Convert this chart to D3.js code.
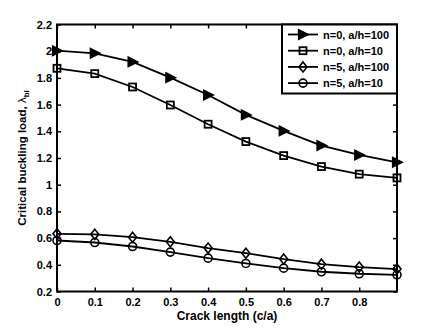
<!DOCTYPE html>
<html><head><meta charset="utf-8">
<script src="https://cdn.jsdelivr.net/npm/d3@7"></script>
<style>body{margin:0;background:#fff}svg{display:block}text{font-family:"Liberation Sans",Arial,sans-serif;font-weight:bold}</style>
</head><body><svg id="c" width="437" height="328"></svg>
<script>
const crack = [0,0.1,0.2,0.3,0.4,0.5,0.6,0.7,0.8,0.9];
const s_n0_a100 = [2.004,1.984,1.92,1.802,1.672,1.523,1.403,1.293,1.223,1.168];
const s_n0_a10  = [1.872,1.832,1.732,1.597,1.453,1.323,1.218,1.136,1.079,1.051];
const s_n5_a100 = [0.632,0.628,0.607,0.572,0.525,0.487,0.443,0.405,0.383,0.368];
const s_n5_a10  = [0.582,0.567,0.537,0.495,0.45,0.41,0.375,0.348,0.333,0.325];
const seriesNames = ["n=0, a/h=100","n=0, a/h=10","n=5, a/h=100","n=5, a/h=10"];
const seriesMarkers = ["triangle","square","diamond","circle"];
const xTicks = [0,0.1,0.2,0.3,0.4,0.5,0.6,0.7,0.8];
const yTicks = [0.2,0.4,0.6,0.8,1,1.2,1.4,1.6,1.8,2,2.2];

const series = [s_n0_a100,s_n0_a10,s_n5_a100,s_n5_a10];
const svg = d3.select("#c");
const L=57,R=397,T=24.5,B=291.5;
const x = d3.scaleLinear().domain([0,0.9]).range([L,R]);
const y = d3.scaleLinear().domain([0.2,2.2]).range([B,T]);

function marker(g,type,cx,cy){
  if(type==="triangle"){
    g.append("path").attr("d",`M${cx-4.5},${cy-5}L${cx+5.5},${cy}L${cx-4.5},${cy+5}Z`).attr("fill","#000").attr("stroke","#000").attr("stroke-width",1.2);
  } else if(type==="square"){
    g.append("rect").attr("x",cx-3.5).attr("y",cy-3.5).attr("width",7).attr("height",7).attr("fill","none").attr("stroke","#000").attr("stroke-width",1.8);
  } else if(type==="diamond"){
    g.append("path").attr("d",`M${cx},${cy-5}L${cx+4},${cy}L${cx},${cy+5}L${cx-4},${cy}Z`).attr("fill","none").attr("stroke","#000").attr("stroke-width",1.6);
  } else {
    g.append("circle").attr("cx",cx).attr("cy",cy).attr("r",4).attr("fill","none").attr("stroke","#000").attr("stroke-width",1.6);
  }
}

const ax = svg.append("g");
ax.append("g").attr("transform",`translate(0,${B})`).call(d3.axisBottom(x).tickValues(xTicks).tickSize(-4).tickPadding(7).tickFormat(d3.format("~g")));
ax.append("g").attr("transform",`translate(0,${T})`).call(d3.axisTop(x).tickValues(xTicks).tickSize(-4).tickFormat(""));
ax.append("g").attr("transform",`translate(${L},0)`).call(d3.axisLeft(y).tickValues(yTicks).tickSize(-4).tickPadding(5).tickFormat(d3.format("~g")));
ax.append("g").attr("transform",`translate(${R},0)`).call(d3.axisRight(y).tickValues(yTicks).tickSize(-4).tickFormat(""));
ax.selectAll(".domain").remove();
ax.selectAll(".tick line").attr("stroke","#000").attr("stroke-width",1.5);
ax.selectAll(".tick text").attr("font-size",11).attr("font-weight","bold").attr("fill","#000").attr("font-family","Liberation Sans, Arial, sans-serif");
svg.append("rect").attr("x",L).attr("y",T).attr("width",R-L).attr("height",B-T).attr("fill","none").attr("stroke","#000").attr("stroke-width",2);

const line = d3.line().x((d,i)=>x(crack[i])).y(d=>y(d));
series.forEach((s,k)=>{
  svg.append("path").datum(s).attr("d",line).attr("fill","none").attr("stroke","#000").attr("stroke-width",1.8);
  const g = svg.append("g");
  s.forEach((v,i)=>marker(g,seriesMarkers[k],x(crack[i]),y(v)));
});

const lg = svg.append("g");
lg.append("rect").attr("x",282).attr("y",T).attr("width",R-282).attr("height",69).attr("fill","#fff").attr("stroke","#000").attr("stroke-width",2);
seriesNames.forEach((n,k)=>{
  const yy = 34.5 + k*16.2;
  lg.append("line").attr("x1",288).attr("x2",318).attr("y1",yy).attr("y2",yy).attr("stroke","#000").attr("stroke-width",1.8);
  marker(lg,seriesMarkers[k],303,yy);
  lg.append("text").attr("x",323).attr("y",yy+4).attr("font-size",11).text(n);
});

svg.append("text").attr("x",(L+R)/2).attr("y",320).attr("text-anchor","middle").attr("font-size",12).text("Crack length (c/a)");
const yl = svg.append("text").attr("transform",`translate(26,${(T+B)/2}) rotate(-90)`).attr("text-anchor","middle").attr("font-size",11.5);
yl.append("tspan").text("Critical buckling load, ");
yl.append("tspan").attr("font-weight","normal").text("λ");
yl.append("tspan").attr("font-size",8).attr("dy",3).text("bl");
</script></body></html>
